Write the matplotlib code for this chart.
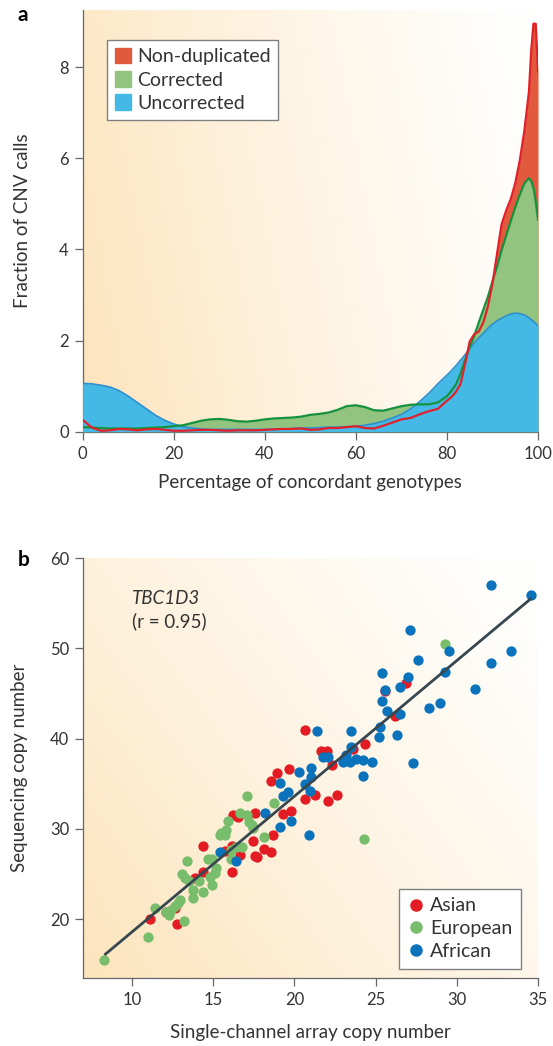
import numpy as np
import matplotlib
matplotlib.use("Agg")
import matplotlib.pyplot as plt
from matplotlib.patches import Patch
from matplotlib.lines import Line2D

plt.rcParams['font.family'] = ['Lato', 'DejaVu Sans']

# ---- panel a: density of concordance per CNV class ----
pct = [0, 2, 4, 6, 8, 10, 12, 14, 16, 18, 20, 22, 24, 26, 28, 30, 32, 34, 36, 38,
       40, 42, 44, 46, 48, 50, 52, 54, 56, 58, 60, 62, 64, 66, 68, 70, 72, 74, 76, 78,
       80, 81, 82, 83, 84, 85, 86, 87, 88, 89, 90, 91, 92, 93, 94, 95, 96, 97, 98,
       98.5, 99, 99.5, 100]

uncorrected = [1.06, 1.05, 1.02, 0.98, 0.90, 0.78, 0.64, 0.50, 0.36, 0.25, 0.17, 0.11,
               0.08, 0.06, 0.05, 0.05, 0.05, 0.05, 0.05, 0.05, 0.05, 0.06, 0.06, 0.07,
               0.08, 0.08, 0.09, 0.10, 0.10, 0.11, 0.12, 0.14, 0.18, 0.23, 0.30, 0.38,
               0.50, 0.66, 0.84, 1.05, 1.24, 1.34, 1.45, 1.57, 1.69, 1.82, 1.95, 2.06,
               2.16, 2.27, 2.36, 2.43, 2.49, 2.54, 2.58, 2.60, 2.59, 2.56, 2.50, 2.46,
               2.42, 2.37, 2.33]

corrected = [0.10, 0.09, 0.08, 0.07, 0.07, 0.07, 0.07, 0.08, 0.09, 0.10, 0.12, 0.14,
             0.19, 0.24, 0.27, 0.28, 0.26, 0.23, 0.22, 0.24, 0.27, 0.29, 0.30, 0.31,
             0.33, 0.37, 0.39, 0.42, 0.48, 0.56, 0.58, 0.54, 0.47, 0.46, 0.51, 0.56,
             0.59, 0.60, 0.60, 0.64, 0.78, 0.90, 1.04, 1.28, 1.58, 1.86, 2.10, 2.40,
             2.68, 2.96, 3.30, 3.62, 3.98, 4.30, 4.62, 4.92, 5.20, 5.45, 5.56, 5.50,
             5.35, 5.05, 4.65]

nondup = [0.26, 0.09, 0.02, 0.03, 0.06, 0.05, 0.03, 0.05, 0.06, 0.04, 0.02, 0.02,
          0.03, 0.04, 0.04, 0.03, 0.02, 0.03, 0.03, 0.03, 0.04, 0.05, 0.06, 0.06,
          0.07, 0.04, 0.05, 0.08, 0.08, 0.10, 0.12, 0.08, 0.07, 0.13, 0.20, 0.27,
          0.30, 0.38, 0.45, 0.50, 0.68, 0.76, 0.88, 1.05, 1.50, 1.98, 2.14, 2.20,
          2.40, 2.75, 3.25, 3.90, 4.55, 4.85, 5.10, 5.45, 5.95, 6.60, 7.45, 8.35,
          8.95, 8.95, 7.90]

# ---- panel b: TBC1D3 copy number, array vs sequencing ----
asian_x = [11.1, 12.77, 12.1, 12.66, 13.86, 14.4, 14.36, 15.7, 16.14, 16.65, 16.14,
           17.45, 17.56, 18.1, 18.54, 18.7, 19.3, 19.8, 17.6, 16.25, 16.5, 18.54,
           18.96, 19.66, 20.64, 21.67, 22.0, 22.3, 23.6, 24.33, 26.2, 26.9, 25.6,
           21.3, 22.6, 22.1, 20.68, 17.67]
asian_y = [20.0, 19.4, 20.8, 21.2, 24.5, 25.2, 28.05, 27.5, 25.2, 27.05, 28.1,
           28.7, 26.95, 27.8, 27.4, 29.3, 31.65, 31.95, 31.8, 31.5, 31.3, 35.3,
           36.2, 36.6, 41.0, 38.66, 38.66, 37.1, 38.8, 39.4, 42.5, 46.2, 45.3,
           33.7, 33.7, 33.05, 33.3, 26.9]

european_x = [8.3, 11.0, 11.4, 13.2, 12.1, 12.4, 12.64, 12.85, 12.95, 12.3, 13.77,
              13.73, 14.4, 13.5, 13.05, 13.26, 13.4, 14.14, 14.9, 14.8, 15.1, 15.2,
              14.9, 14.7, 16.1, 16.1, 16.4, 16.8, 15.5, 15.8, 15.4, 15.7, 18.1,
              16.64, 17.06, 17.2, 17.36, 17.46, 15.9, 17.06, 18.75, 24.27, 29.3]
european_y = [15.5, 18.0, 21.2, 19.8, 20.8, 21.0, 21.4, 21.75, 22.1, 20.5, 22.3,
              23.2, 23.05, 24.2, 25.0, 24.5, 26.4, 24.2, 23.8, 24.7, 25.1, 25.6,
              26.7, 26.6, 26.7, 27.7, 28.0, 28.0, 29.5, 29.9, 29.3, 29.3, 29.1,
              31.7, 31.5, 30.8, 30.4, 30.1, 30.9, 33.6, 32.9, 28.9, 50.5]

african_x = [32.1, 34.6, 27.15, 29.5, 33.35, 32.1, 27.6, 25.4, 29.26, 25.55, 26.5,
             27.0, 31.1, 25.42, 25.7, 28.3, 28.95, 26.5, 25.26, 25.2, 26.3, 27.3,
             21.42, 23.47, 21.77, 22.08, 23.47, 23.17, 23.4, 23.0, 23.8, 24.2, 24.8,
             24.2, 21.05, 20.3, 19.1, 21.05, 20.64, 20.95, 19.6, 19.3, 18.2, 19.1,
             19.8, 20.9, 15.45, 16.4]
african_y = [57.0, 55.9, 52.0, 49.7, 49.7, 48.4, 48.65, 47.3, 47.4, 45.4, 45.7,
             46.8, 45.5, 44.2, 43.1, 43.4, 43.9, 42.7, 41.25, 40.2, 40.4, 37.3,
             40.8, 40.8, 37.9, 37.9, 39.1, 38.2, 37.44, 37.44, 37.7, 37.6, 37.4,
             35.9, 36.7, 36.3, 35.1, 35.7, 34.95, 34.2, 34.1, 33.6, 31.8, 30.2,
             30.9, 29.3, 27.4, 26.4]

RED_FILL, RED_LINE = '#e25a3e', '#e2202a'
GREEN_FILL, GREEN_LINE = '#93c47f', '#14923e'
BLUE_FILL, BLUE_LINE = '#45b9e6', '#2b8fd0'
TICK_COL = '#666666'
TXT = '#333333'


def paint_bg(ax, horiz):
    # soft orange wash fading to white towards the top right
    u, v = np.meshgrid(np.linspace(0, 1, 300), np.linspace(1, 0, 300))
    w = np.clip(horiz * (1 - u) + (1 - horiz) * (1 - v), 0, 1) ** 1.3
    dark = np.array([253, 228, 188]) / 255.0
    light = np.array([255, 255, 254]) / 255.0
    img = light + w[..., None] * (dark - light)
    ax.imshow(img, extent=(0, 1, 0, 1), transform=ax.transAxes,
              aspect='auto', zorder=0, interpolation='bilinear')


def style_axes(ax):
    for s in ('top', 'right'):
        ax.spines[s].set_visible(False)
    for s in ('left', 'bottom'):
        ax.spines[s].set_color(TICK_COL)
        ax.spines[s].set_linewidth(0.9)
    ax.tick_params(direction='out', length=6, width=0.9, color=TICK_COL,
                   labelcolor=TXT, labelsize=12, pad=4)


fig = plt.figure(figsize=(5.53, 10.46), dpi=100)

# panel a
ax1 = fig.add_axes([0.1495, 0.5873, 0.8234, 0.4031])
paint_bg(ax1, 0.85)
ax1.fill_between(pct, nondup, color=RED_FILL, lw=0, zorder=2)
ax1.fill_between(pct, corrected, color=GREEN_FILL, lw=0, zorder=3)
ax1.fill_between(pct, uncorrected, color=BLUE_FILL, lw=0, zorder=4)
ax1.plot(pct, uncorrected, color=BLUE_LINE, lw=1.2, zorder=5)
ax1.plot(pct, corrected, color=GREEN_LINE, lw=1.6, zorder=6)
ax1.plot(pct, nondup, color=RED_LINE, lw=1.6, zorder=7)
ax1.set_xlim(0, 100)
ax1.set_ylim(0, 9.25)
ax1.set_xticks([0, 20, 40, 60, 80, 100])
ax1.set_yticks([0, 2, 4, 6, 8])
style_axes(ax1)
ax1.set_xlabel('Percentage of concordant genotypes', fontsize=13.5, color=TXT, labelpad=9)
ax1.set_ylabel('Fraction of CNV calls', fontsize=13.5, color=TXT, labelpad=20)

leg1 = ax1.legend(handles=[Patch(color=RED_FILL, label='Non-duplicated'),
                           Patch(color=GREEN_FILL, label='Corrected'),
                           Patch(color=BLUE_FILL, label='Uncorrected')],
                  loc='upper left', bbox_to_anchor=(0.053, 0.929), borderaxespad=0,
                  fontsize=14, handlelength=0.85, handleheight=0.85, handletextpad=0.3,
                  labelspacing=0.3, borderpad=0.4, fancybox=False, framealpha=1)
leg1.get_frame().set_edgecolor('#808080')
leg1.get_frame().set_linewidth(1.0)
for t in leg1.get_texts():
    t.set_color(TXT)

# panel b
ax2 = fig.add_axes([0.1506, 0.0653, 0.8222, 0.4012])
paint_bg(ax2, 0.6)
ms = 55
ax2.scatter(asian_x, asian_y, s=ms, color='#e31b23', lw=0, zorder=3)
ax2.scatter(european_x, european_y, s=ms, color='#78bd6c', lw=0, zorder=4)
ax2.scatter(african_x, african_y, s=ms, color='#0b72bc', lw=0, zorder=5)

all_x = np.array(asian_x + european_x + african_x)
all_y = np.array(asian_y + european_y + african_y)
slope, icpt = np.polyfit(all_x, all_y, 1)
fit_x = np.array([all_x.min(), all_x.max()])
ax2.plot(fit_x, slope * fit_x + icpt, color='#37474f', lw=2.0, zorder=6,
         solid_capstyle='butt')

ax2.set_xlim(7, 35)
ax2.set_ylim(13.5, 60)
ax2.set_xticks([10, 15, 20, 25, 30, 35])
ax2.set_yticks([20, 30, 40, 50, 60])
style_axes(ax2)
ax2.set_xlabel('Single-channel array copy number', fontsize=13.5, color=TXT, labelpad=12)
ax2.set_ylabel('Sequencing copy number', fontsize=13.5, color=TXT, labelpad=16)

ax2.text(0.107, 0.904, 'TBC1D3', transform=ax2.transAxes, fontsize=13.5,
         style='italic', color=TXT, va='center', zorder=7)
ax2.text(0.107, 0.849, '(r = 0.95)', transform=ax2.transAxes, fontsize=13.5,
         color=TXT, va='center', zorder=7)

dot = dict(marker='o', lw=0, markersize=8)
leg2 = ax2.legend(handles=[Line2D([], [], color='#e31b23', label='Asian', **dot),
                           Line2D([], [], color='#78bd6c', label='European', **dot),
                           Line2D([], [], color='#0b72bc', label='African', **dot)],
                  loc='lower right', bbox_to_anchor=(0.963, 0.021), borderaxespad=0,
                  fontsize=14, handlelength=0.8, handletextpad=0.35, labelspacing=0.3,
                  borderpad=0.45, fancybox=False, framealpha=1)
leg2.get_frame().set_edgecolor('#808080')
leg2.get_frame().set_linewidth(1.0)
for t in leg2.get_texts():
    t.set_color(TXT)

fig.text(18 / 553, 1 - 15 / 1046, 'a', fontsize=15, fontweight='bold', va='center', ha='left')
fig.text(18 / 553, 1 - 560 / 1046, 'b', fontsize=15, fontweight='bold', va='center', ha='left')

fig.savefig('out.png', dpi=100, facecolor='white')
